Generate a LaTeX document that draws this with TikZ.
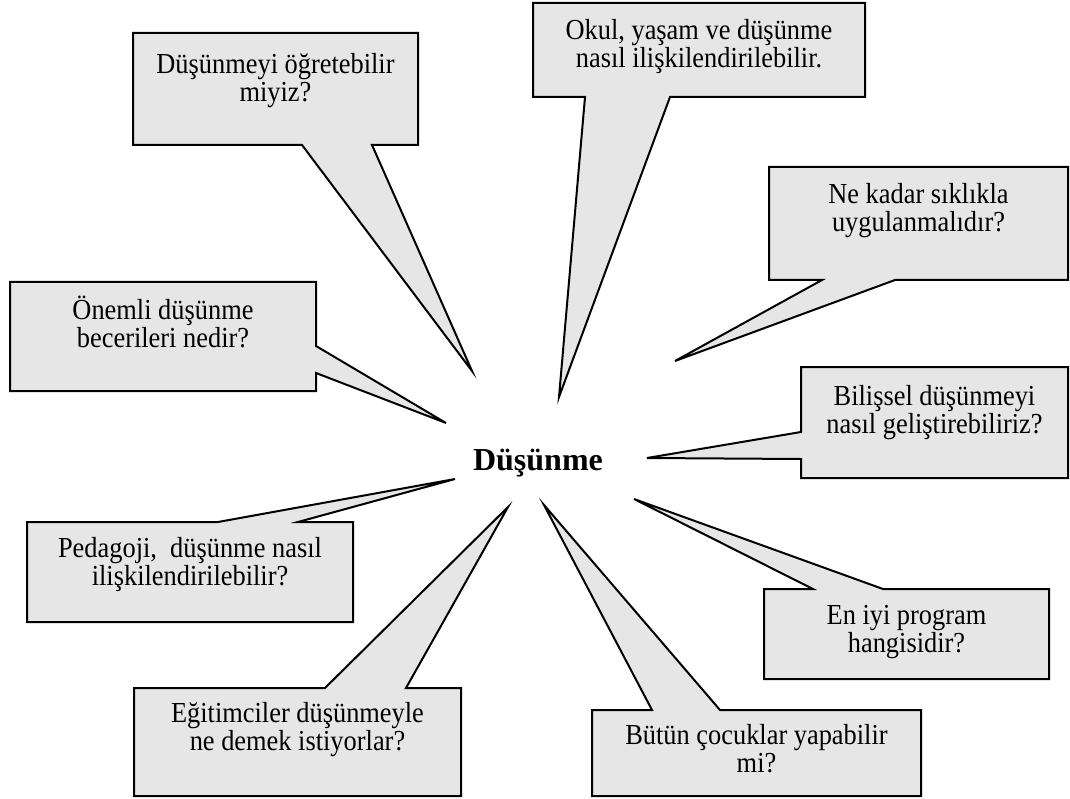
\documentclass[tikz,border=0pt]{standalone}
\usepackage{fontspec}
\setmainfont{Liberation Serif}
\newfontfamily\questionfont[FakeStretch=0.91]{Liberation Serif}
\newcommand\firstline{\rule{0pt}{28pt}}
\definecolor{calloutfill}{HTML}{E6E6E6}
\begin{document}
\begin{tikzpicture}[x=1pt,y=-1pt,
  callout/.style={draw=black,fill=calloutfill,line width=2pt,line join=miter},
  qtext/.style={anchor=north,inner sep=0pt,align=center,
    font=\questionfont\fontsize{29}{28.5}\selectfont},
  hubtext/.style={anchor=base,inner sep=0pt,font=\fontsize{32}{36}\selectfont\bfseries}]
\useasboundingbox (0,0) rectangle (1070,799);

% central topic
\node[hubtext] (hub) at (538,470) {Düşünme};

% tips of the callout tails, gathered round the central topic
\coordinate (t1) at (472,371);
\coordinate (t2) at (559,397);
\coordinate (t3) at (675,361);
\coordinate (t4) at (647,458);
\coordinate (t5) at (634,499);
\coordinate (t6) at (544,505);
\coordinate (t7) at (508,507);
\coordinate (t8) at (455,479);
\coordinate (t9) at (446,423);

% callout boxes with their pointed tails
\draw[callout] (133,33) -- (418,33) -- (418,145) -- (372,145) -- (t1) -- (302,145) -- (133,145) -- cycle;
\draw[callout] (533,3) -- (865,3) -- (865,97) -- (670,97) -- (t2) -- (585,97) -- (533,97) -- cycle;
\draw[callout] (769,167) -- (1068,167) -- (1068,280) -- (895,280) -- (t3) -- (822,280) -- (769,280) -- cycle;
\draw[callout] (801,367) -- (1068,367) -- (1068,478) -- (801,478) -- (801,459) -- (t4) -- (801,432) -- cycle;
\draw[callout] (764,589) -- (813,589) -- (t5) -- (883,589) -- (1049,589) -- (1049,679) -- (764,679) -- cycle;
\draw[callout] (592,710) -- (652,710) -- (t6) -- (720,710) -- (921,710) -- (921,796) -- (592,796) -- cycle;
\draw[callout] (134,688) -- (325,688) -- (t7) -- (406,688) -- (461,688) -- (461,796) -- (134,796) -- cycle;
\draw[callout] (27,522) -- (218,522) -- (t8) -- (298,522) -- (353,522) -- (353,622) -- (27,622) -- cycle;
\draw[callout] (10,282) -- (316,282) -- (316,346) -- (t9) -- (316,373) -- (316,391) -- (10,391) -- cycle;

% questions (each first line opens with a fixed-height strut so the
% node's north edge sits 28pt above the first baseline)
\node[qtext] (q1) at (275.5,45)  {\firstline Düşünmeyi öğretebilir\\miyiz?};
\node[qtext] (q2) at (699,11)    {\firstline Okul, yaşam ve düşünme\\nasıl ilişkilendirilebilir.};
\node[qtext] (q3) at (918.5,175) {\firstline Ne kadar sıklıkla\\uygulanmalıdır?};
\node[qtext] (q4) at (934.5,377) {\firstline Bilişsel düşünmeyi\\nasıl geliştirebiliriz?};
\node[qtext] (q5) at (906.5,596) {\firstline En iyi program\\hangisidir?};
\node[qtext] (q6) at (756.5,716) {\firstline Bütün çocuklar yapabilir\\mi?};
\node[qtext] (q7) at (297.5,694) {\firstline Eğitimciler düşünmeyle\\ne demek istiyorlar?};
\node[qtext] (q8) at (190,529)   {\firstline Pedagoji,\ \ düşünme nasıl\\ilişkilendirilebilir?};
\node[qtext] (q9) at (163,291)   {\firstline Önemli düşünme\\becerileri nedir?};
\end{tikzpicture}
\end{document}
